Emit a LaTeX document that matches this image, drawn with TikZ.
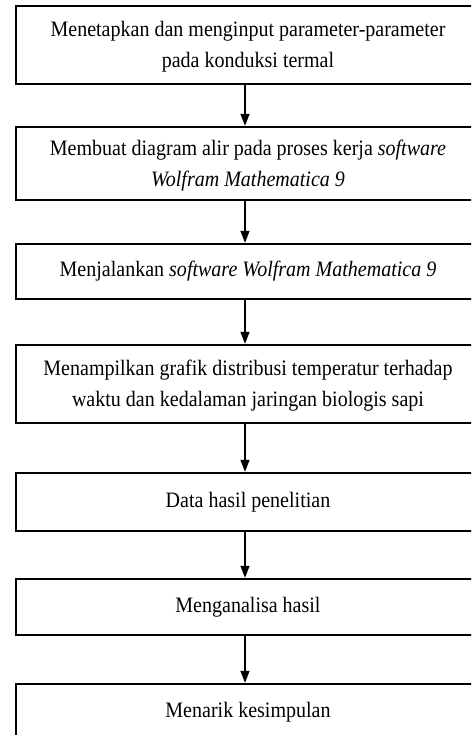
\documentclass[tikz,border=0pt]{standalone}
\usepackage{fontspec}
\setmainfont{Liberation Serif}[FakeStretch=0.91]
\usetikzlibrary{arrows.meta}
\newcommand{\hstrut}{\rule{0pt}{19pt}}
\begin{document}
\begin{tikzpicture}[x=1pt,y=-1pt,
  box/.style={draw, line width=2.4pt, minimum width=464pt, inner sep=0pt, align=center,
              font=\fontsize{22}{31}\selectfont},
  one/.style={box, text height=14.5pt, text depth=4.5pt},
  arr/.style={line width=1.3pt, -{Triangle[width=9pt,length=12pt]}}]
\useasboundingbox (0,0) rectangle (471,735);
\clip (0,0) rectangle (471,735);
\node[box, minimum height=78pt] (b1) at (248,45)
  {\hstrut Menetapkan dan menginput parameter-parameter\\pada konduksi termal};
\node[box, minimum height=73pt] (b2) at (248,163.5)
  {\hstrut Membuat diagram alir pada proses kerja \textit{software}\\\textit{Wolfram Mathematica 9}};
\node[one, minimum height=55pt] (b3) at (248,271.5)
  {Menjalankan \textit{software Wolfram Mathematica 9}};
\node[box, minimum height=78pt] (b4) at (248,384)
  {\hstrut Menampilkan grafik distribusi temperatur terhadap\\waktu dan kedalaman jaringan biologis sapi};
\node[one, minimum height=58pt] (b5) at (248,502) {Data hasil penelitian};
\node[one, minimum height=56pt] (b6) at (248,607) {Menganalisa hasil};
\node[one, minimum height=56pt] (b7) at (248,712) {Menarik kesimpulan};
\foreach \a/\b in {b1/b2,b2/b3,b3/b4,b4/b5,b5/b6,b6/b7}
  \draw[arr] ([xshift=-3pt]\a.south) -- ([xshift=-3pt]\b.north);
\end{tikzpicture}
\end{document}
